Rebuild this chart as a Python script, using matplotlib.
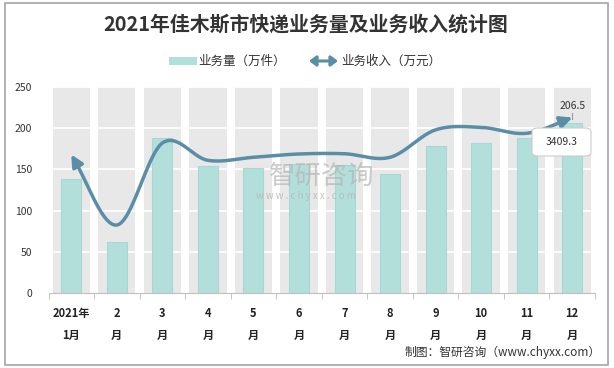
import numpy as np
import matplotlib
matplotlib.use("Agg")
import matplotlib.pyplot as plt
from matplotlib.patches import Rectangle, FancyBboxPatch, FancyArrowPatch

plt.rcParams['font.family'] = ['Noto Sans CJK SC', 'DejaVu Sans']

categories = ["2021年\n1月", "2\n月", "3\n月", "4\n月", "5\n月", "6\n月",
              "7\n月", "8\n月", "9\n月", "10\n月", "11\n月", "12\n月"]
volume = [138, 61.5, 187.7, 153.7, 152, 157, 155, 144, 178, 181.7, 187.7, 206.5]
revenue = [168, 82.5, 182, 161, 164.7, 168.7, 169, 164.7, 198, 201, 193.8, 212.8]
yticks = [0, 50, 100, 150, 200, 250]
total_label = "3409.3"
last_label = "206.5"

fig = plt.figure(figsize=(6.14, 3.68), dpi=100)
fig.patches.append(Rectangle((4.5/614, 1-364.5/368), 603.5/614, 362/368, transform=fig.transFigure,
                             fill=False, edgecolor="#a6a6a6", linewidth=1.2))

ax = fig.add_axes([48.5/614, 1-293/368, 546.5/614, 206/368])
x = np.arange(len(categories))

# gray background bands
ax.bar(x, [250]*len(x), width=0.82, color="#e8e8e8", zorder=0)
for yv in yticks[1:]:
    ax.axhline(yv, color="white", linewidth=1.2, zorder=1)
ax.bar(x, volume, width=0.44, color="#b3dfdb", edgecolor="#a8d8d4", linewidth=0.8, zorder=2)

# smooth line (Catmull-Rom through data points)
def catmull(xs, ys, n=40):
    P = np.column_stack([xs, ys]).astype(float)
    P = np.vstack([2*P[0] - P[1], P, 2*P[-1] - P[-2]])
    out = []
    for i in range(1, len(P) - 2):
        p0, p1, p2, p3 = P[i-1], P[i], P[i+1], P[i+2]
        t = np.linspace(0, 1, n, endpoint=False)[:, None]
        seg = 0.5 * ((2*p1) + (-p0 + p2)*t + (2*p0 - 5*p1 + 4*p2 - p3)*t**2 + (-p0 + 3*p1 - 3*p2 + p3)*t**3)
        out.append(seg)
    out.append(P[-2][None, :])
    return np.vstack(out)

curve = catmull(x, revenue)
lc = "#5a8ea6"
ax.plot(curve[3:-3, 0], curve[3:-3, 1], color=lc, linewidth=2.5, zorder=4, solid_capstyle="round")
ap = dict(arrowstyle="-|>,head_length=0.7,head_width=0.35", color=lc, lw=2.5, shrinkA=0, shrinkB=0)
ax.annotate("", xy=(curve[-1, 0], curve[-1, 1]), xytext=(curve[-6, 0], curve[-6, 1]),
            arrowprops=ap, zorder=5)
ax.annotate("", xy=(curve[0, 0], curve[0, 1]), xytext=(curve[5, 0], curve[5, 1]),
            arrowprops=ap, zorder=5)

ax.set_xlim(-0.5, len(x) - 0.5)
ax.set_ylim(0, 250)
ax.set_yticks(yticks)
ax.set_yticklabels([str(v) for v in yticks], fontsize=7.5, color="#333333")
ax.set_xticks(x)
ax.set_xticklabels(categories, fontsize=8, fontweight="bold", color="#222222", linespacing=1.9)
ax.set_xticks(np.arange(-0.5, len(x)), minor=True)
ax.tick_params(axis="x", which="major", length=0, pad=10)
ax.tick_params(axis="x", which="minor", length=4, color="#bfbfbf")
ax.tick_params(axis="y", length=0, pad=12)
for s in ["top", "right", "left"]:
    ax.spines[s].set_visible(False)
ax.spines["bottom"].set_color("#bfbfbf")

# labels
ax.text(x[-1], volume[-1] + 14, last_label, ha="center", va="bottom", fontsize=7.5, color="#333333", zorder=6)
ax.plot([x[-1], x[-1]], [volume[-1] + 5, volume[-1] + 12], color="#999999", lw=0.8, zorder=6)
box = FancyBboxPatch((532/614, 1-156/368), 59/614, 28/368, boxstyle="round,pad=0,rounding_size=0.01",
                     transform=fig.transFigure, facecolor="white", edgecolor="#cccccc", linewidth=0.8, zorder=10)
fig.patches.append(box)
fig.text(562/614, 1-142/368, total_label, ha="center", va="center", fontsize=7.5, color="#333333", zorder=11)

# watermark
fig.text(322/614, 1-176/368, "智研咨询", fontsize=19, color="#b5b5b5", alpha=0.7, ha="center", va="center", zorder=3)
fig.text(306/614, 1-196/368, "w w w . c h y x x . c o m", fontsize=7, color="#b5b5b5", alpha=0.8, ha="center", va="center")

fig.text(306/614, 1-24/368, "2021年佳木斯市快递业务量及业务收入统计图", ha="center", va="center",
         fontsize=14.3, fontweight="bold", color="#333333")

# legend
fig.patches.append(Rectangle((169/614, 1-65/368), 28/614, 8/368, transform=fig.transFigure,
                             facecolor="#b3dfdb", edgecolor="none"))
fig.text(198/614, 1-61/368, "业务量（万件）", ha="left", va="center", fontsize=9, color="#333333")
fig.add_artist(FancyArrowPatch((309/614, 1-61/368), (338/614, 1-61/368),
               transform=fig.transFigure, arrowstyle="<|-|>,head_length=4,head_width=3",
               color=lc, lw=2.2, mutation_scale=1, shrinkA=0, shrinkB=0))
fig.text(341/614, 1-61/368, "业务收入（万元）", ha="left", va="center", fontsize=9, color="#333333")

fig.text(601/614, 1-352/368, "制图：智研咨询（www.chyxx.com）", ha="right", va="center", fontsize=8.5, color="#333333")

fig.savefig("out.png", dpi=100)
